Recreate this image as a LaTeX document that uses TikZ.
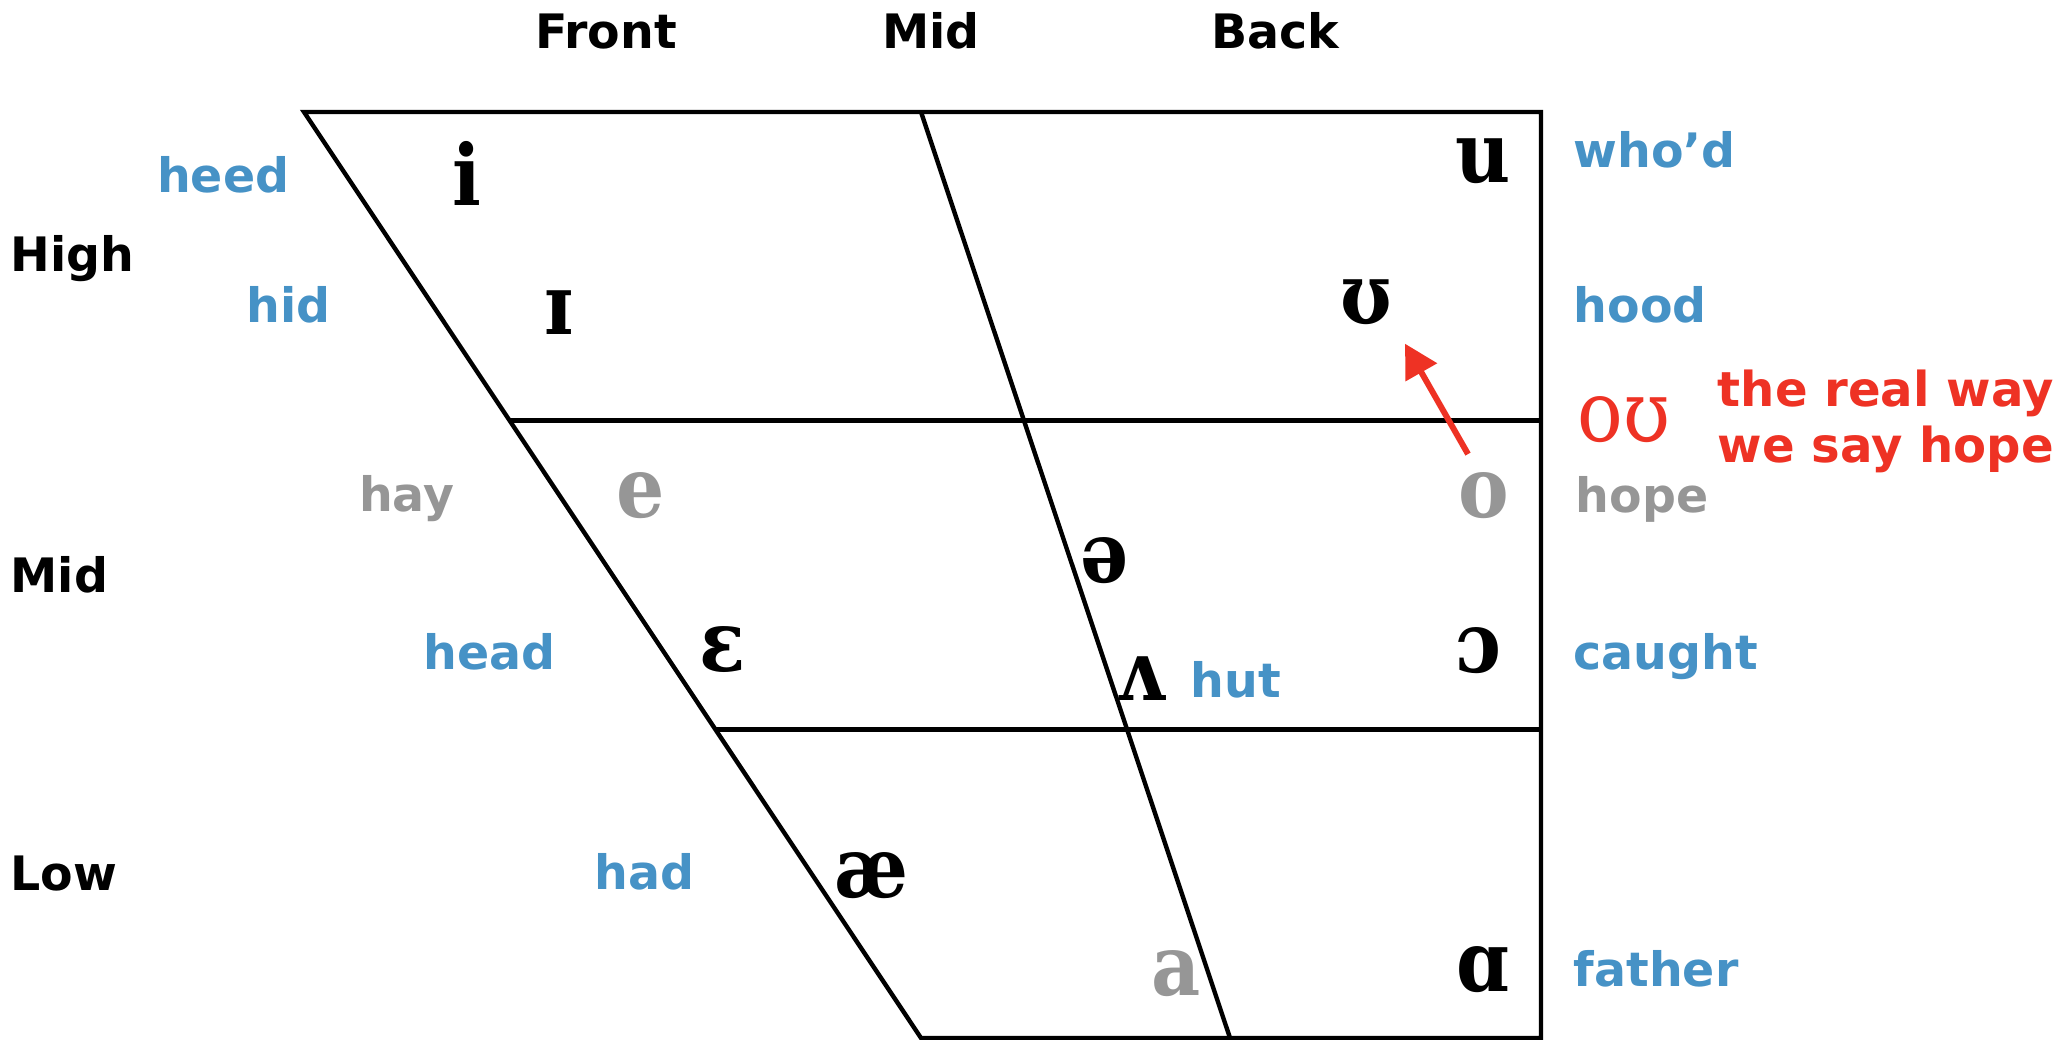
\documentclass[tikz,border=0pt]{standalone}
\usepackage{fontspec}
\setmainfont{DejaVu Sans}
\newfontfamily\ipafont{DejaVu Serif}[FakeStretch=0.9]
\usepackage{tikz}
\usetikzlibrary{arrows.meta,calc}
\usepackage{xcolor}
\definecolor{WordBlue}{RGB}{70,146,198}
\definecolor{HopeGray}{RGB}{150,150,150}
\definecolor{HopeRed}{RGB}{238,50,36}

\begin{document}
\begin{tikzpicture}[
  chart/.style={draw=black,line width=1.25pt},
  axis/.style={font=\fontsize{13.5}{15}\selectfont\bfseries,inner sep=0pt},
  word/.style={font=\fontsize{13.5}{15}\selectfont\bfseries,text=WordBlue,inner sep=0pt},
  vowel/.style={font=\fontsize{24}{26}\selectfont\ipafont\bfseries,inner sep=0pt,anchor=base},
  hopearrow/.style={-{Triangle[length=3.3mm,width=3.5mm]},draw=HopeRed,line width=1.7pt},
]
\useasboundingbox (0,0) rectangle (20.7,10.4);
\coordinate (tl) at (3.04,9.28);
\coordinate (tm) at (9.21,9.28);
\coordinate (tr) at (15.41,9.28);
\coordinate (br) at (15.41,0.02);
\coordinate (bm) at (12.30,0.02);
\coordinate (bl) at (9.21,0.02);
\draw[chart] (tl) -- (tr) -- (br) -- (bl) -- cycle;
\draw[chart] (tm) -- (bm);
\draw[chart] ($(tl)!1/3!(bl)$) -- ($(tr)!1/3!(br)$);
\draw[chart] ($(tl)!2/3!(bl)$) -- ($(tr)!2/3!(br)$);
\node[axis,anchor=base] (front) at (6.06,9.91) {Front};
\node[axis,anchor=base] (midtop) at (9.31,9.91) {Mid};
\node[axis,anchor=base] (back) at (12.75,9.91) {Back};
\node[axis,anchor=base west] (high) at (0.10,7.68) {High};
\node[axis,anchor=base west] (midleft) at (0.10,4.47) {Mid};
\node[axis,anchor=base west] (low) at (0.10,1.49) {Low};
\node[word,anchor=base east] (heed) at (2.90,8.47) {heed};
\node[word,anchor=base east] (hid) at (3.31,7.17) {hid};
\node[word,anchor=base east,text=HopeGray] (hay) at (4.55,5.28) {hay};
\node[word,anchor=base east] (head) at (5.56,3.70) {head};
\node[word,anchor=base east] (had) at (6.95,1.50) {had};
\node[word,anchor=base west] (whod) at (15.73,8.72) {who’d};
\node[word,anchor=base west] (hood) at (15.73,7.17) {hood};
\node[word,anchor=base west,text=HopeGray] (hope) at (15.75,5.27) {hope};
\node[word,anchor=base west] (caught) at (15.73,3.70) {caught};
\node[word,anchor=base west] (father) at (15.73,0.53) {father};
\node[word,anchor=base west] (hut) at (11.90,3.42) {hut};
\node[vowel] (vi) at (4.67,8.34) {i};
\node[vowel] (vsmalli) at (5.59,7.05) {ɪ};
\node[vowel] (vu) at (14.83,8.57) {u};
\node[vowel] (vupsilon) at (13.66,7.16) {ʊ};
\node[vowel,text=HopeGray] (ve) at (6.41,5.22) {e};
\node[vowel,text=HopeGray] (vo) at (14.84,5.22) {o};
\node[vowel] (vschwa) at (11.05,4.57) {ə};
\node[vowel] (vepsilon) at (7.23,3.68) {ɛ};
\node[vowel] (vwedge) at (11.41,3.39) {ʌ};
\node[vowel] (vopeno) at (14.79,3.67) {ɔ};
\node[vowel] (vash) at (8.71,1.42) {æ};
\node[vowel,text=HopeGray] (va) at (11.76,0.44) {a};
\node[vowel] (valpha) at (14.83,0.48) {ɑ};
\node[vowel,text=HopeRed,font=\fontsize{24}{26}\selectfont\ipafont] (vou) at (16.24,5.98) {oʊ};
\node[word,text=HopeRed,anchor=base west,align=left,font=\fontsize{13.7}{16.2}\selectfont\bfseries]
  (realway) at (17.17,5.77) {the real way\\we say hope};
\draw[hopearrow] ([shift={(-0.16,0.42)}]vo.center) -- ([shift={(0.39,-0.41)}]vupsilon.center);
\end{tikzpicture}
\end{document}
